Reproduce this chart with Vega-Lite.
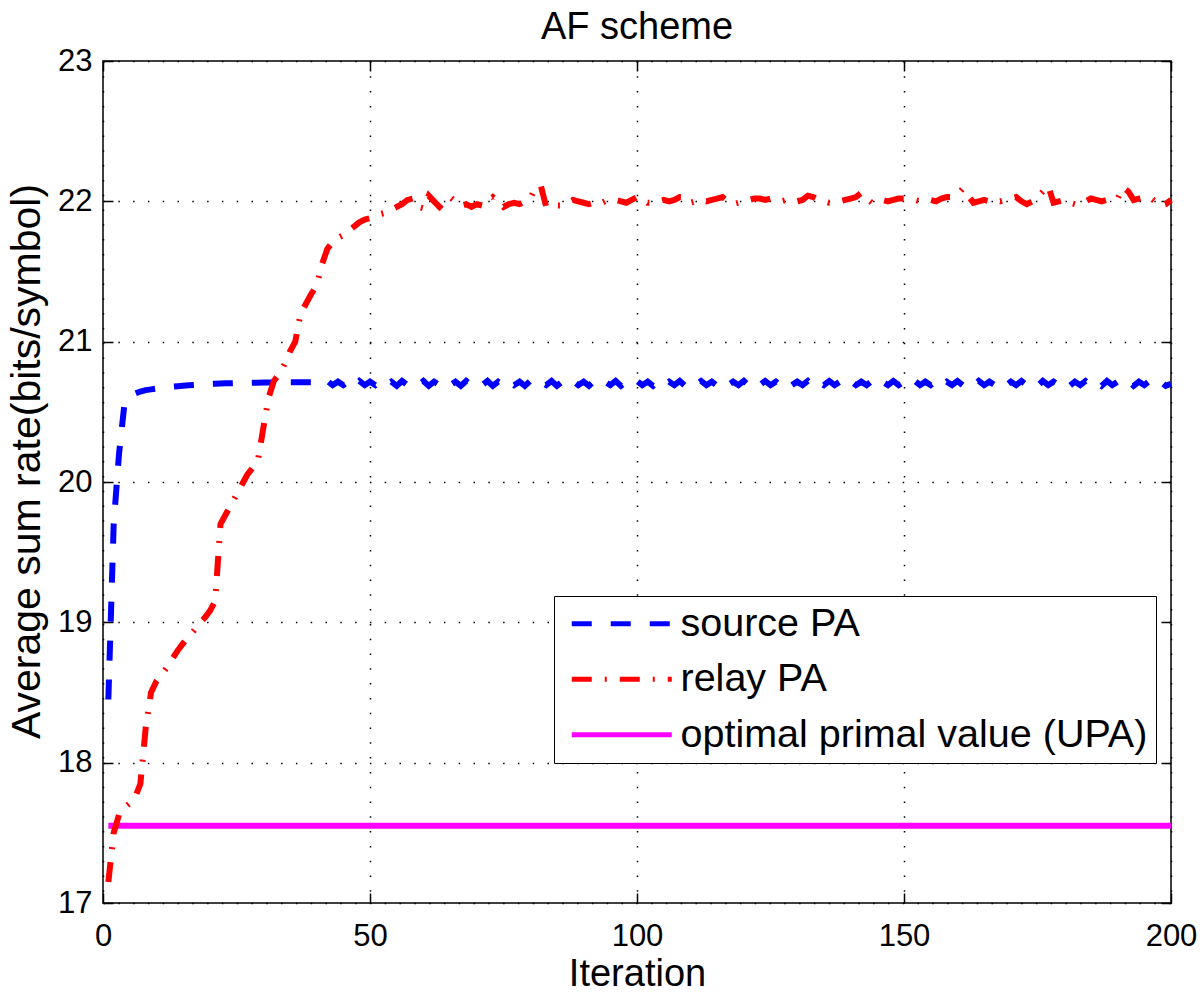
{
  "$schema": "https://vega.github.io/schema/vega-lite/v6.json",
  "autosize": {"type": "none"},
  "padding": {"left": 103, "top": 61, "right": 29, "bottom": 93},
  "width": 1068,
  "height": 842,
  "title": {"text": "AF scheme", "fontSize": 38, "fontWeight": "normal", "font": "Liberation Sans", "color": "black", "offset": -2, "frame": "group", "anchor": "middle"},
  "config": {
    "font": "Liberation Sans",
    "background": "white",
    "view": {"stroke": "black", "strokeWidth": 1.5},
    "axis": {"domain": false, "labelColor": "black", "titleColor": "black", "tickColor": "black", "tickWidth": 1.5, "labelFont": "Liberation Sans", "titleFont": "Liberation Sans", "titleFontWeight": "normal", "labelFlush": false, "labelOverlap": false}
  },
  "datasets": {
    "main": [
      {"x":1,"source PA":18.45,"relay PA":17.15},
      {"x":2,"source PA":19.7,"relay PA":17.5},
      {"x":3,"source PA":20.2,"relay PA":17.63},
      {"x":4,"source PA":20.55,"relay PA":17.68},
      {"x":5,"source PA":20.61,"relay PA":17.71},
      {"x":6,"source PA":20.63,"relay PA":17.75},
      {"x":7,"source PA":20.645,"relay PA":17.85},
      {"x":8,"source PA":20.655,"relay PA":18.25},
      {"x":9,"source PA":20.66,"relay PA":18.5},
      {"x":10,"source PA":20.665,"relay PA":18.58},
      {"x":11,"source PA":20.67,"relay PA":18.63},
      {"x":12,"source PA":20.675,"relay PA":18.68},
      {"x":13,"source PA":20.68,"relay PA":18.74},
      {"x":14,"source PA":20.683,"relay PA":18.8},
      {"x":15,"source PA":20.686,"relay PA":18.85},
      {"x":16,"source PA":20.689,"relay PA":18.9},
      {"x":17,"source PA":20.692,"relay PA":18.94},
      {"x":18,"source PA":20.695,"relay PA":18.99},
      {"x":19,"source PA":20.697,"relay PA":19.03},
      {"x":20,"source PA":20.699,"relay PA":19.08},
      {"x":21,"source PA":20.7,"relay PA":19.15},
      {"x":22,"source PA":20.702,"relay PA":19.7},
      {"x":23,"source PA":20.703,"relay PA":19.77},
      {"x":24,"source PA":20.704,"relay PA":19.84},
      {"x":25,"source PA":20.705,"relay PA":19.91},
      {"x":26,"source PA":20.706,"relay PA":19.98},
      {"x":27,"source PA":20.707,"relay PA":20.05},
      {"x":28,"source PA":20.708,"relay PA":20.1},
      {"x":29,"source PA":20.708,"relay PA":20.15},
      {"x":30,"source PA":20.709,"relay PA":20.38},
      {"x":31,"source PA":20.709,"relay PA":20.6},
      {"x":32,"source PA":20.71,"relay PA":20.72},
      {"x":33,"source PA":20.71,"relay PA":20.77},
      {"x":34,"source PA":20.71,"relay PA":20.84},
      {"x":35,"source PA":20.71,"relay PA":20.93},
      {"x":36,"source PA":20.71,"relay PA":21.0},
      {"x":37,"source PA":20.71,"relay PA":21.2},
      {"x":38,"source PA":20.71,"relay PA":21.27},
      {"x":39,"source PA":20.71,"relay PA":21.34},
      {"x":40,"source PA":20.71,"relay PA":21.4},
      {"x":41,"source PA":20.70,"relay PA":21.55},
      {"x":42,"source PA":20.72,"relay PA":21.66},
      {"x":43,"source PA":20.69,"relay PA":21.71},
      {"x":44,"source PA":20.715,"relay PA":21.74},
      {"x":45,"source PA":20.69,"relay PA":21.76},
      {"x":46,"source PA":20.72,"relay PA":21.79},
      {"x":47,"source PA":20.685,"relay PA":21.82},
      {"x":48,"source PA":20.72,"relay PA":21.85},
      {"x":49,"source PA":20.69,"relay PA":21.87},
      {"x":50,"source PA":20.715,"relay PA":21.88},
      {"x":51,"source PA":20.69,"relay PA":21.9},
      {"x":52,"source PA":20.72,"relay PA":21.91},
      {"x":53,"source PA":20.69,"relay PA":21.92},
      {"x":54,"source PA":20.715,"relay PA":21.94},
      {"x":55,"source PA":20.685,"relay PA":21.96},
      {"x":56,"source PA":20.72,"relay PA":21.98},
      {"x":57,"source PA":20.69,"relay PA":22.01},
      {"x":58,"source PA":20.715,"relay PA":22.02},
      {"x":59,"source PA":20.69,"relay PA":21.96},
      {"x":60,"source PA":20.72,"relay PA":21.95},
      {"x":61,"source PA":20.685,"relay PA":22.04},
      {"x":62,"source PA":20.715,"relay PA":22.0},
      {"x":63,"source PA":20.69,"relay PA":21.96},
      {"x":64,"source PA":20.72,"relay PA":22.0},
      {"x":65,"source PA":20.69,"relay PA":22.03},
      {"x":66,"source PA":20.715,"relay PA":22.0},
      {"x":67,"source PA":20.685,"relay PA":21.97},
      {"x":68,"source PA":20.72,"relay PA":21.98},
      {"x":69,"source PA":20.69,"relay PA":21.96},
      {"x":70,"source PA":20.715,"relay PA":21.98},
      {"x":71,"source PA":20.69,"relay PA":21.97},
      {"x":72,"source PA":20.72,"relay PA":22.0},
      {"x":73,"source PA":20.685,"relay PA":22.03},
      {"x":74,"source PA":20.715,"relay PA":22.0},
      {"x":75,"source PA":20.69,"relay PA":21.96},
      {"x":76,"source PA":20.72,"relay PA":21.98},
      {"x":77,"source PA":20.69,"relay PA":21.99},
      {"x":78,"source PA":20.715,"relay PA":21.98},
      {"x":79,"source PA":20.685,"relay PA":22.0},
      {"x":80,"source PA":20.72,"relay PA":22.02},
      {"x":81,"source PA":20.69,"relay PA":22.1},
      {"x":82,"source PA":20.715,"relay PA":22.11},
      {"x":83,"source PA":20.69,"relay PA":21.96},
      {"x":84,"source PA":20.72,"relay PA":21.96},
      {"x":85,"source PA":20.685,"relay PA":21.97},
      {"x":86,"source PA":20.715,"relay PA":21.97},
      {"x":87,"source PA":20.69,"relay PA":21.99},
      {"x":88,"source PA":20.72,"relay PA":22.01},
      {"x":89,"source PA":20.69,"relay PA":22.0},
      {"x":90,"source PA":20.715,"relay PA":21.99},
      {"x":91,"source PA":20.685,"relay PA":21.98},
      {"x":92,"source PA":20.72,"relay PA":21.99},
      {"x":93,"source PA":20.69,"relay PA":21.98},
      {"x":94,"source PA":20.715,"relay PA":22.0},
      {"x":95,"source PA":20.69,"relay PA":22.01},
      {"x":96,"source PA":20.72,"relay PA":22.01},
      {"x":97,"source PA":20.685,"relay PA":22.0},
      {"x":98,"source PA":20.715,"relay PA":21.99},
      {"x":99,"source PA":20.69,"relay PA":22.01},
      {"x":100,"source PA":20.72,"relay PA":22.03},
      {"x":101,"source PA":20.69,"relay PA":22.02},
      {"x":102,"source PA":20.715,"relay PA":21.99},
      {"x":103,"source PA":20.685,"relay PA":21.99},
      {"x":104,"source PA":20.72,"relay PA":22.0},
      {"x":105,"source PA":20.69,"relay PA":22.01},
      {"x":106,"source PA":20.715,"relay PA":22.0},
      {"x":107,"source PA":20.69,"relay PA":22.01},
      {"x":108,"source PA":20.72,"relay PA":22.03},
      {"x":109,"source PA":20.685,"relay PA":22.03},
      {"x":110,"source PA":20.715,"relay PA":21.99},
      {"x":111,"source PA":20.69,"relay PA":22.0},
      {"x":112,"source PA":20.72,"relay PA":22.01},
      {"x":113,"source PA":20.69,"relay PA":22.0},
      {"x":114,"source PA":20.715,"relay PA":22.01},
      {"x":115,"source PA":20.685,"relay PA":22.02},
      {"x":116,"source PA":20.72,"relay PA":22.03},
      {"x":117,"source PA":20.69,"relay PA":22.0},
      {"x":118,"source PA":20.715,"relay PA":21.98},
      {"x":119,"source PA":20.69,"relay PA":21.99},
      {"x":120,"source PA":20.72,"relay PA":22.0},
      {"x":121,"source PA":20.685,"relay PA":22.01},
      {"x":122,"source PA":20.715,"relay PA":22.02},
      {"x":123,"source PA":20.69,"relay PA":22.02},
      {"x":124,"source PA":20.72,"relay PA":22.01},
      {"x":125,"source PA":20.69,"relay PA":22.02},
      {"x":126,"source PA":20.715,"relay PA":22.01},
      {"x":127,"source PA":20.685,"relay PA":22.0},
      {"x":128,"source PA":20.72,"relay PA":22.01},
      {"x":129,"source PA":20.69,"relay PA":22.01},
      {"x":130,"source PA":20.715,"relay PA":22.0},
      {"x":131,"source PA":20.69,"relay PA":22.01},
      {"x":132,"source PA":20.72,"relay PA":22.04},
      {"x":133,"source PA":20.685,"relay PA":22.03},
      {"x":134,"source PA":20.715,"relay PA":22.01},
      {"x":135,"source PA":20.69,"relay PA":22.0},
      {"x":136,"source PA":20.72,"relay PA":21.99},
      {"x":137,"source PA":20.69,"relay PA":21.99},
      {"x":138,"source PA":20.715,"relay PA":22.0},
      {"x":139,"source PA":20.685,"relay PA":22.01},
      {"x":140,"source PA":20.72,"relay PA":22.02},
      {"x":141,"source PA":20.69,"relay PA":22.03},
      {"x":142,"source PA":20.715,"relay PA":22.06},
      {"x":143,"source PA":20.69,"relay PA":22.02},
      {"x":144,"source PA":20.72,"relay PA":21.99},
      {"x":145,"source PA":20.685,"relay PA":22.0},
      {"x":146,"source PA":20.715,"relay PA":22.01},
      {"x":147,"source PA":20.69,"relay PA":22.0},
      {"x":148,"source PA":20.72,"relay PA":22.01},
      {"x":149,"source PA":20.69,"relay PA":22.02},
      {"x":150,"source PA":20.715,"relay PA":22.02},
      {"x":151,"source PA":20.685,"relay PA":22.01},
      {"x":152,"source PA":20.72,"relay PA":22.01},
      {"x":153,"source PA":20.69,"relay PA":22.0},
      {"x":154,"source PA":20.715,"relay PA":22.01},
      {"x":155,"source PA":20.69,"relay PA":22.01},
      {"x":156,"source PA":20.72,"relay PA":22.0},
      {"x":157,"source PA":20.685,"relay PA":22.02},
      {"x":158,"source PA":20.715,"relay PA":22.03},
      {"x":159,"source PA":20.69,"relay PA":22.03},
      {"x":160,"source PA":20.72,"relay PA":22.05},
      {"x":161,"source PA":20.69,"relay PA":22.09},
      {"x":162,"source PA":20.715,"relay PA":22.04},
      {"x":163,"source PA":20.685,"relay PA":21.99},
      {"x":164,"source PA":20.72,"relay PA":22.0},
      {"x":165,"source PA":20.69,"relay PA":22.01},
      {"x":166,"source PA":20.715,"relay PA":22.0},
      {"x":167,"source PA":20.69,"relay PA":22.01},
      {"x":168,"source PA":20.72,"relay PA":22.0},
      {"x":169,"source PA":20.685,"relay PA":22.01},
      {"x":170,"source PA":20.715,"relay PA":22.02},
      {"x":171,"source PA":20.69,"relay PA":22.03},
      {"x":172,"source PA":20.72,"relay PA":22.0},
      {"x":173,"source PA":20.69,"relay PA":21.98},
      {"x":174,"source PA":20.715,"relay PA":22.0},
      {"x":175,"source PA":20.685,"relay PA":22.03},
      {"x":176,"source PA":20.72,"relay PA":22.07},
      {"x":177,"source PA":20.69,"relay PA":22.11},
      {"x":178,"source PA":20.715,"relay PA":21.99},
      {"x":179,"source PA":20.69,"relay PA":22.0},
      {"x":180,"source PA":20.72,"relay PA":22.01},
      {"x":181,"source PA":20.685,"relay PA":21.99},
      {"x":182,"source PA":20.715,"relay PA":21.98},
      {"x":183,"source PA":20.69,"relay PA":21.98},
      {"x":184,"source PA":20.72,"relay PA":22.0},
      {"x":185,"source PA":20.69,"relay PA":22.02},
      {"x":186,"source PA":20.715,"relay PA":22.01},
      {"x":187,"source PA":20.685,"relay PA":22.0},
      {"x":188,"source PA":20.72,"relay PA":22.01},
      {"x":189,"source PA":20.69,"relay PA":22.02},
      {"x":190,"source PA":20.715,"relay PA":22.02},
      {"x":191,"source PA":20.69,"relay PA":22.1},
      {"x":192,"source PA":20.72,"relay PA":22.07},
      {"x":193,"source PA":20.685,"relay PA":22.01},
      {"x":194,"source PA":20.715,"relay PA":22.02},
      {"x":195,"source PA":20.69,"relay PA":22.03},
      {"x":196,"source PA":20.72,"relay PA":22.03},
      {"x":197,"source PA":20.69,"relay PA":22.0},
      {"x":198,"source PA":20.715,"relay PA":21.97},
      {"x":199,"source PA":20.685,"relay PA":21.98},
      {"x":200,"source PA":20.7,"relay PA":22.01}
    ],
    "upa": [
      {"x": 1, "series": "optimal primal value (UPA)", "rate": 17.55},
      {"x": 200, "series": "optimal primal value (UPA)", "rate": 17.55}
    ]
  },
  "layer": [
    {
      "data": {"name": "upa"},
      "mark": {"type": "line", "strokeWidth": 6, "strokeCap": "butt"},
      "encoding": {
        "x": {"field": "x", "type": "quantitative", "scale": {"domain": [0, 200], "nice": false}, "axis": null},
        "y": {"field": "rate", "type": "quantitative", "scale": {"domain": [17, 23], "nice": false, "zero": false}, "axis": null},
        "color": {"field": "series", "type": "nominal", "scale": {"domain": ["source PA", "relay PA", "optimal primal value (UPA)"], "range": ["#0000ff", "#ff0000", "#ff00ff"]},
          "legend": {"title": null, "orient": "none", "legendX": 451, "legendY": 535, "strokeColor": "black", "fillColor": "white", "padding": 8, "rowPadding": 14.5, "labelFontSize": 39.5, "labelFont": "Liberation Sans", "labelColor": "black", "symbolType": "M-1,0H9", "symbolSize": 400, "symbolStrokeWidth": 5, "labelOffset": 79, "labelLimit": 0, "cornerRadius": 0}},
        "strokeDash": {"field": "series", "type": "nominal", "scale": {"domain": ["source PA", "relay PA", "optimal primal value (UPA)"], "range": [[20, 19], [20, 13, 2, 13], [1, 0]]},
          "legend": {"title": null, "orient": "none", "legendX": 451, "legendY": 535, "strokeColor": "black", "fillColor": "white", "padding": 8, "rowPadding": 14.5, "labelFontSize": 39.5, "labelFont": "Liberation Sans", "labelColor": "black", "symbolType": "M-1,0H9", "symbolSize": 400, "symbolStrokeWidth": 5, "labelOffset": 79, "labelLimit": 0, "cornerRadius": 0}}
      }
    },
    {
      "data": {"name": "main"},
      "transform": [{"fold": ["source PA", "relay PA"], "as": ["series", "rate"]}],
      "mark": {"type": "line", "strokeWidth": 6, "strokeCap": "butt"},
      "encoding": {
        "x": {"field": "x", "type": "quantitative",
          "axis": {"title": "Iteration", "values": [0, 50, 100, 150, 200], "labelFontSize": 31, "titleFontSize": 38, "grid": true, "gridColor": "black", "gridDash": [1.5, 13.3], "gridWidth": 1.5, "gridOpacity": 1, "tickSize": -10, "labelPadding": 28, "titlePadding": 4}},
        "y": {"field": "rate", "type": "quantitative",
          "axis": {"title": "Average sum rate(bits/symbol)", "values": [17, 18, 19, 20, 21, 22, 23], "labelFontSize": 31, "titleFontSize": 41, "grid": true, "gridColor": "black", "gridDash": [1.5, 13.3], "gridWidth": 1.5, "gridOpacity": 1, "tickSize": -10, "labelPadding": 21, "titlePadding": 9, "titleY": 400}},
        "color": {"field": "series", "type": "nominal"},
        "strokeDash": {"field": "series", "type": "nominal"}
      }
    },
    {
      "data": {"name": "upa"},
      "mark": {"type": "point", "opacity": 0},
      "encoding": {
        "x": {"field": "x", "type": "quantitative", "axis": {"orient": "top", "labels": false, "title": null, "grid": false, "tickSize": -10, "values": [0, 50, 100, 150, 200]}},
        "y": {"field": "rate", "type": "quantitative", "axis": {"orient": "right", "labels": false, "title": null, "grid": false, "tickSize": -10, "values": [17, 18, 19, 20, 21, 22, 23]}}
      }
    }
  ],
  "resolve": {"axis": {"x": "independent", "y": "independent"}}
}
